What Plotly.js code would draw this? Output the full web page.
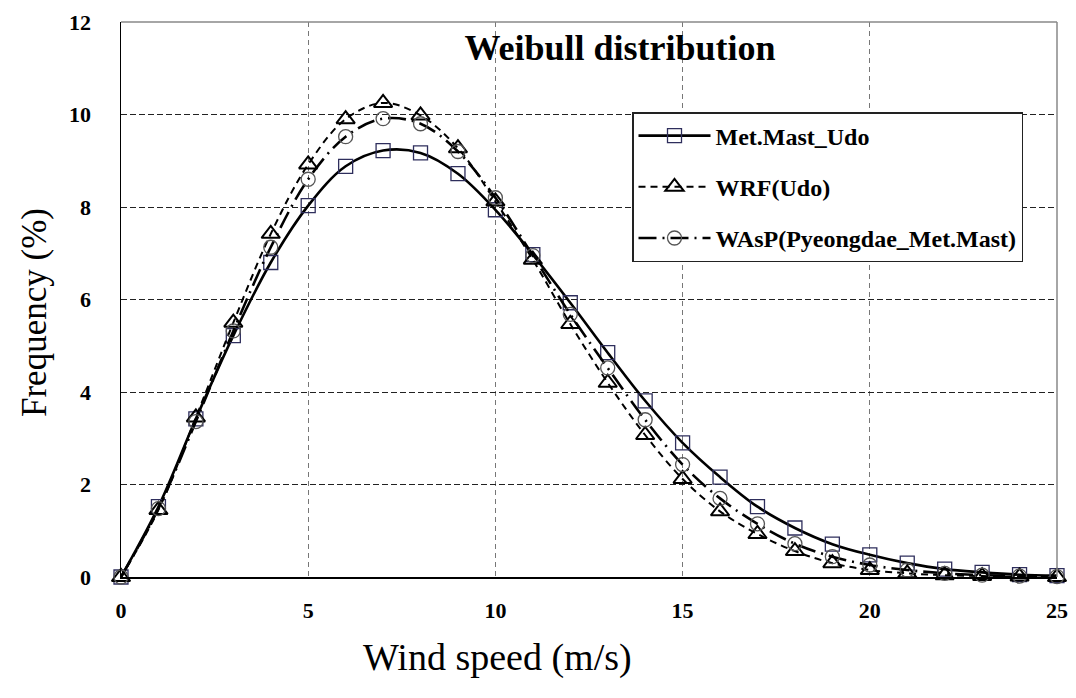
<!DOCTYPE html>
<html>
<head>
<meta charset="utf-8">
<script src="https://cdn.plot.ly/plotly-3.0.1.min.js"></script>
<style>html,body{margin:0;padding:0;background:#fff;}#chart{width:1076px;height:698px;}</style>
</head>
<body>
<div id="chart"></div>
<script>
const windSpeed = [0,1,2,3,4,5,6,7,8,9,10,11,12,13,14,15,16,17,18,19,20,21,22,23,24,25];
const metMastUdo = [0,1.52,3.42,5.22,6.8,8.03,8.88,9.22,9.17,8.72,7.94,6.97,5.93,4.85,3.81,2.9,2.16,1.52,1.06,0.71,0.48,0.3,0.17,0.1,0.05,0.03];
const wrfUdo = [0,1.45,3.45,5.5,7.42,8.92,9.9,10.25,9.98,9.27,8.12,6.86,5.47,4.2,3.07,2.12,1.42,0.93,0.56,0.3,0.15,0.08,0.04,0.02,0.01,0];
const waspPyeongdae = [0,1.48,3.36,5.32,7.13,8.6,9.52,9.91,9.8,9.2,8.2,6.95,5.68,4.52,3.4,2.43,1.7,1.15,0.72,0.44,0.26,0.15,0.08,0.04,0.02,0.01];
const seriesNames = ['Met.Mast_Udo','WRF(Udo)','WAsP(Pyeongdae_Met.Mast)'];
const xTicks = [0,5,10,15,20,25];
const yTicks = [0,2,4,6,8,10,12];

const serif = '"Liberation Serif", "DejaVu Serif", serif';
const L = 121, R = 1057, T = 22, B = 577;
const PW = R - L, PH = B - T;

const traces = [
  {x: windSpeed, y: metMastUdo, name: seriesNames[0], legendgroup: 'a', type: 'scatter', mode: 'lines+markers',
   line: {color: '#000', width: 2.6, shape: 'spline', smoothing: 1},
   marker: {symbol: 'square-open', size: 14, color: '#2e2e5c', line: {width: 1.3}}, cliponaxis: false},
  {x: windSpeed, y: wrfUdo, name: seriesNames[1], legendgroup: 'b', type: 'scatter', mode: 'lines+markers',
   line: {color: '#000', width: 2, dash: '7px,5px', shape: 'spline', smoothing: 1},
   marker: {symbol: 'triangle-up-open', size: 16, color: '#000', line: {width: 2}}, cliponaxis: false},
  {x: windSpeed, y: waspPyeongdae, name: seriesNames[2], legendgroup: 'c', type: 'scatter', mode: 'lines+markers',
   line: {color: '#000', width: 2.6, dash: '18px,6px,2px,6px', shape: 'spline', smoothing: 1},
   marker: {symbol: 'circle-open', size: 14, color: '#555', line: {width: 1.3}}, cliponaxis: false}
];

const layout = {
  width: 1076, height: 698,
  margin: {l: L, r: 1076 - R, t: T, b: 698 - B},
  paper_bgcolor: '#fff', plot_bgcolor: '#fff',
  showlegend: true,
  title: {text: '<b>Weibull distribution</b>', x: 620/1076, xanchor: 'center', y: 1 - 47/698, yanchor: 'middle',
          font: {family: serif, size: 36, color: '#000'}},
  xaxis: {range: [0, 25], tickvals: xTicks, ticktext: xTicks.map(String), ticks: '', zeroline: false,
          showline: true, linecolor: '#000', linewidth: 1.5, mirror: false,
          showgrid: true, gridcolor: '#777', gridwidth: 1, griddash: '5px,4px',
          tickfont: {family: serif, size: 22, color: '#000', weight: 'bold'}, ticklabelstandoff: 13,
          ticklabeloverflow: 'allow'},
  yaxis: {range: [0, 12], tickvals: yTicks, ticktext: yTicks.map(String), ticks: '', zeroline: false,
          showline: true, linecolor: '#000', linewidth: 1.5, mirror: false,
          showgrid: true, gridcolor: '#222', gridwidth: 1, griddash: '6px,3px',
          tickfont: {family: serif, size: 22, color: '#000', weight: 'bold'}, ticklabelstandoff: 24},
  legend: {x: (632 - L)/PW, y: (B - 112)/PH, xanchor: 'left', yanchor: 'top',
           bgcolor: '#fff', bordercolor: '#222', borderwidth: 1.5,
           font: {family: serif, size: 24, color: '#000', weight: 'bold'},
           tracegroupgap: 17, traceorder: 'grouped', itemwidth: 72,
           entrywidth: 400, entrywidthmode: 'pixels'},
  shapes: [
    {type: 'line', xref: 'paper', yref: 'paper', x0: 0, x1: 1, y0: 1, y1: 1, line: {color: '#888', width: 1.5}},
    {type: 'line', xref: 'paper', yref: 'paper', x0: 1, x1: 1, y0: 0, y1: 1, line: {color: '#888', width: 1.5}}
  ],
  annotations: [
    {text: 'Wind speed (m/s)', xref: 'paper', yref: 'paper', x: (497 - L)/PW, y: -(657 - B)/PH,
     xanchor: 'center', yanchor: 'middle', showarrow: false, font: {family: serif, size: 38, color: '#000'}},
    {text: 'Frequency (%)', xref: 'paper', yref: 'paper', x: -(L - 34)/PW, y: (B - 313)/PH, textangle: -90,
     xanchor: 'center', yanchor: 'middle', showarrow: false, font: {family: serif, size: 35, color: '#000'}}
  ]
};

Plotly.newPlot('chart', traces, layout, {displayModeBar: false, staticPlot: true});
</script>
</body>
</html>
